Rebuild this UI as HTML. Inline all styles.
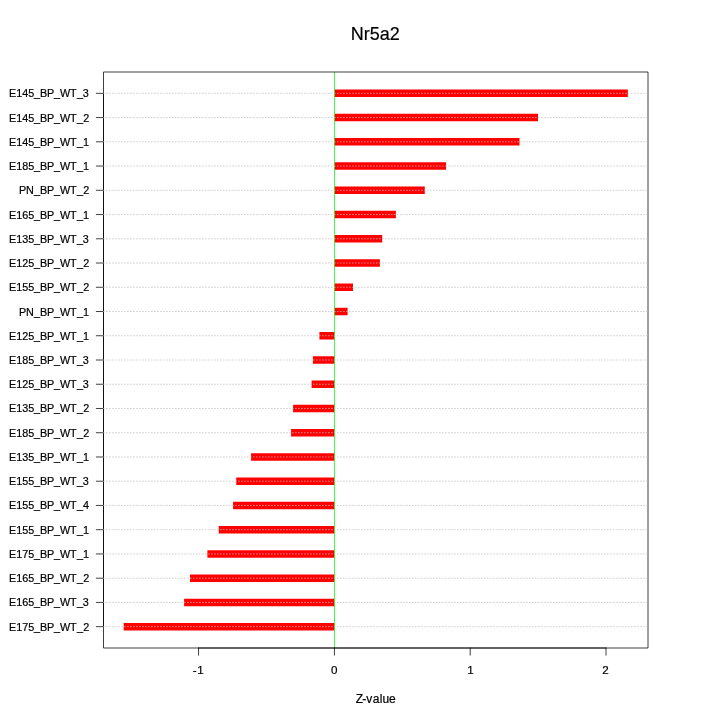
<!DOCTYPE html>
<html lang="en">
<head>
<meta charset="utf-8">
<title>Nr5a2</title>
<style>
html,body{margin:0;padding:0;background:#fff;}
body{width:720px;height:720px;overflow:hidden;}
svg{display:block;}
text{font-family:"Liberation Sans","Helvetica","Arial",sans-serif;fill:#000;stroke:#000;stroke-width:0.2px;}
.yl{font-size:10.8px;text-anchor:start;}
.xl{font-size:11.6px;text-anchor:start;}
.ax{stroke:#000;stroke-width:0.75;fill:none;stroke-linecap:round;stroke-linejoin:round;}
.bar{stroke:#f00;stroke-width:7.5;stroke-linecap:butt;fill:none;}
.grid{stroke:#bebebe;stroke-width:0.75;stroke-dasharray:0.75 2.25;stroke-linecap:round;fill:none;}
</style>
</head>
<body>
<svg width="720" height="720" viewBox="0 0 720 720">
<rect x="0" y="0" width="720" height="720" fill="#fff"/>
<text x="375.25" y="40" style="font-size:18px;text-anchor:middle;">Nr5a2</text>
<text x="355.74 362.3 366.25 372.65 379.74 382.6 388.9" y="703" style="font-size:12px;">Z-value</text>
<g class="bar">
<line x1="334.4" y1="93.33" x2="627.83" y2="93.33"/>
<line x1="334.4" y1="117.58" x2="538.0" y2="117.58"/>
<line x1="334.4" y1="141.82" x2="519.5" y2="141.82"/>
<line x1="334.4" y1="166.06" x2="446.1" y2="166.06"/>
<line x1="334.4" y1="190.30" x2="424.8" y2="190.30"/>
<line x1="334.4" y1="214.55" x2="395.9" y2="214.55"/>
<line x1="334.4" y1="238.79" x2="382.2" y2="238.79"/>
<line x1="334.4" y1="263.03" x2="379.9" y2="263.03"/>
<line x1="334.4" y1="287.27" x2="353.0" y2="287.27"/>
<line x1="334.4" y1="311.52" x2="347.6" y2="311.52"/>
<line x1="334.4" y1="335.76" x2="319.4" y2="335.76"/>
<line x1="334.4" y1="360.00" x2="312.9" y2="360.00"/>
<line x1="334.4" y1="384.24" x2="311.6" y2="384.24"/>
<line x1="334.4" y1="408.48" x2="293.1" y2="408.48"/>
<line x1="334.4" y1="432.73" x2="291.1" y2="432.73"/>
<line x1="334.4" y1="456.97" x2="251.1" y2="456.97"/>
<line x1="334.4" y1="481.21" x2="236.25" y2="481.21"/>
<line x1="334.4" y1="505.45" x2="233.1" y2="505.45"/>
<line x1="334.4" y1="529.70" x2="218.75" y2="529.70"/>
<line x1="334.4" y1="553.94" x2="207.4" y2="553.94"/>
<line x1="334.4" y1="578.18" x2="190.0" y2="578.18"/>
<line x1="334.4" y1="602.42" x2="184.1" y2="602.42"/>
<line x1="334.4" y1="626.67" x2="123.67" y2="626.67"/>
</g>
<line x1="334.5" y1="72.0" x2="334.5" y2="648.0" stroke="#0f0" stroke-width="0.75"/>
<g class="ax">
<line x1="198.55" y1="648.0" x2="606.0" y2="648.0"/>
<line x1="198.55" y1="648.0" x2="198.55" y2="655.2"/>
<line x1="334.4" y1="648.0" x2="334.4" y2="655.2"/>
<line x1="470.2" y1="648.0" x2="470.2" y2="655.2"/>
<line x1="606.0" y1="648.0" x2="606.0" y2="655.2"/>
</g>
<text class="xl" x="192.75 197.34" y="674">-1</text>
<text class="xl" x="331.1" y="674">0</text>
<text class="xl" x="467.19" y="674">1</text>
<text class="xl" x="602.3" y="674">2</text>
<g class="ax">
<line x1="103.5" y1="93.33" x2="103.5" y2="626.67"/>
<line x1="103.5" y1="93.33" x2="96.3" y2="93.33"/>
<line x1="103.5" y1="117.58" x2="96.3" y2="117.58"/>
<line x1="103.5" y1="141.82" x2="96.3" y2="141.82"/>
<line x1="103.5" y1="166.06" x2="96.3" y2="166.06"/>
<line x1="103.5" y1="190.30" x2="96.3" y2="190.30"/>
<line x1="103.5" y1="214.55" x2="96.3" y2="214.55"/>
<line x1="103.5" y1="238.79" x2="96.3" y2="238.79"/>
<line x1="103.5" y1="263.03" x2="96.3" y2="263.03"/>
<line x1="103.5" y1="287.27" x2="96.3" y2="287.27"/>
<line x1="103.5" y1="311.52" x2="96.3" y2="311.52"/>
<line x1="103.5" y1="335.76" x2="96.3" y2="335.76"/>
<line x1="103.5" y1="360.00" x2="96.3" y2="360.00"/>
<line x1="103.5" y1="384.24" x2="96.3" y2="384.24"/>
<line x1="103.5" y1="408.48" x2="96.3" y2="408.48"/>
<line x1="103.5" y1="432.73" x2="96.3" y2="432.73"/>
<line x1="103.5" y1="456.97" x2="96.3" y2="456.97"/>
<line x1="103.5" y1="481.21" x2="96.3" y2="481.21"/>
<line x1="103.5" y1="505.45" x2="96.3" y2="505.45"/>
<line x1="103.5" y1="529.70" x2="96.3" y2="529.70"/>
<line x1="103.5" y1="553.94" x2="96.3" y2="553.94"/>
<line x1="103.5" y1="578.18" x2="96.3" y2="578.18"/>
<line x1="103.5" y1="602.42" x2="96.3" y2="602.42"/>
<line x1="103.5" y1="626.67" x2="96.3" y2="626.67"/>
</g>
<text class="yl" x="9 16.3 22.3 28.3 34 40 47 54 60 70 77 82.8" y="97">E145_BP_WT_3</text>
<text class="yl" x="9 16.3 22.3 28.3 34 40 47 54 60 70 77 83.3" y="122">E145_BP_WT_2</text>
<text class="yl" x="9 16.3 22.3 28.3 34 40 47 54 60 70 77 83" y="146">E145_BP_WT_1</text>
<text class="yl" x="9 16.3 22.3 28.3 34 40 47 54 60 70 77 83" y="170">E185_BP_WT_1</text>
<text class="yl" x="19 26 34 40 47 54 60 70 77 83.3" y="194">PN_BP_WT_2</text>
<text class="yl" x="9 16.3 22.3 28.3 34 40 47 54 60 70 77 83" y="219">E165_BP_WT_1</text>
<text class="yl" x="9 16.3 22.3 28.3 34 40 47 54 60 70 77 82.8" y="243">E135_BP_WT_3</text>
<text class="yl" x="9 16.3 22.3 28.3 34 40 47 54 60 70 77 83.3" y="267">E125_BP_WT_2</text>
<text class="yl" x="9 16.3 22.3 28.3 34 40 47 54 60 70 77 83.3" y="291">E155_BP_WT_2</text>
<text class="yl" x="19 26 34 40 47 54 60 70 77 83" y="316">PN_BP_WT_1</text>
<text class="yl" x="9 16.3 22.3 28.3 34 40 47 54 60 70 77 83" y="340">E125_BP_WT_1</text>
<text class="yl" x="9 16.3 22.3 28.3 34 40 47 54 60 70 77 82.8" y="364">E185_BP_WT_3</text>
<text class="yl" x="9 16.3 22.3 28.3 34 40 47 54 60 70 77 82.8" y="388">E125_BP_WT_3</text>
<text class="yl" x="9 16.3 22.3 28.3 34 40 47 54 60 70 77 83.3" y="412">E135_BP_WT_2</text>
<text class="yl" x="9 16.3 22.3 28.3 34 40 47 54 60 70 77 83.3" y="437">E185_BP_WT_2</text>
<text class="yl" x="9 16.3 22.3 28.3 34 40 47 54 60 70 77 83" y="461">E135_BP_WT_1</text>
<text class="yl" x="9 16.3 22.3 28.3 34 40 47 54 60 70 77 82.8" y="485">E155_BP_WT_3</text>
<text class="yl" x="9 16.3 22.3 28.3 34 40 47 54 60 70 77 83" y="509">E155_BP_WT_4</text>
<text class="yl" x="9 16.3 22.3 28.3 34 40 47 54 60 70 77 83" y="534">E155_BP_WT_1</text>
<text class="yl" x="9 16.3 22.3 28.3 34 40 47 54 60 70 77 83" y="558">E175_BP_WT_1</text>
<text class="yl" x="9 16.3 22.3 28.3 34 40 47 54 60 70 77 83.3" y="582">E165_BP_WT_2</text>
<text class="yl" x="9 16.3 22.3 28.3 34 40 47 54 60 70 77 82.8" y="606">E165_BP_WT_3</text>
<text class="yl" x="9 16.3 22.3 28.3 34 40 47 54 60 70 77 83.3" y="631">E175_BP_WT_2</text>
<path d="M103.5 72.0H648.0V648.0H103.5Z" fill="none" stroke="#000" stroke-width="0.75"/>
<g class="grid">
<line x1="103.5" y1="93.33" x2="648.0" y2="93.33"/>
<line x1="103.5" y1="117.58" x2="648.0" y2="117.58"/>
<line x1="103.5" y1="141.82" x2="648.0" y2="141.82"/>
<line x1="103.5" y1="166.06" x2="648.0" y2="166.06"/>
<line x1="103.5" y1="190.30" x2="648.0" y2="190.30"/>
<line x1="103.5" y1="214.55" x2="648.0" y2="214.55"/>
<line x1="103.5" y1="238.79" x2="648.0" y2="238.79"/>
<line x1="103.5" y1="263.03" x2="648.0" y2="263.03"/>
<line x1="103.5" y1="287.27" x2="648.0" y2="287.27"/>
<line x1="103.5" y1="311.52" x2="648.0" y2="311.52"/>
<line x1="103.5" y1="335.76" x2="648.0" y2="335.76"/>
<line x1="103.5" y1="360.00" x2="648.0" y2="360.00"/>
<line x1="103.5" y1="384.24" x2="648.0" y2="384.24"/>
<line x1="103.5" y1="408.48" x2="648.0" y2="408.48"/>
<line x1="103.5" y1="432.73" x2="648.0" y2="432.73"/>
<line x1="103.5" y1="456.97" x2="648.0" y2="456.97"/>
<line x1="103.5" y1="481.21" x2="648.0" y2="481.21"/>
<line x1="103.5" y1="505.45" x2="648.0" y2="505.45"/>
<line x1="103.5" y1="529.70" x2="648.0" y2="529.70"/>
<line x1="103.5" y1="553.94" x2="648.0" y2="553.94"/>
<line x1="103.5" y1="578.18" x2="648.0" y2="578.18"/>
<line x1="103.5" y1="602.42" x2="648.0" y2="602.42"/>
<line x1="103.5" y1="626.67" x2="648.0" y2="626.67"/>
</g>
</svg>
</body>
</html>
